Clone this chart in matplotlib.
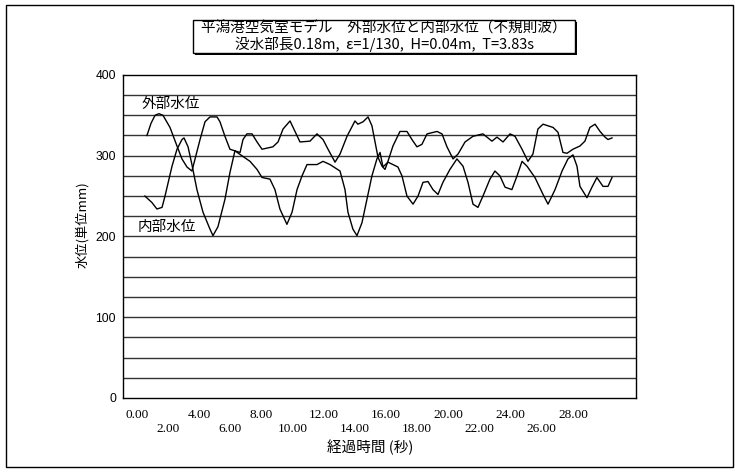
import matplotlib
matplotlib.use("Agg")
import matplotlib.pyplot as plt
from matplotlib.patches import Rectangle

# 外部水位 (outer water level)
t_outer = [0.64, 0.90, 1.16, 1.41, 1.67, 2.12, 2.57, 2.89, 3.21, 3.53, 3.73, 4.05, 4.37, 4.69,
           5.14, 5.33, 5.65, 5.97, 6.29, 6.62, 6.81, 7.06, 7.39, 7.71, 8.03, 8.73, 9.06, 9.38,
           9.83, 10.15, 10.47, 11.11, 11.56, 11.95, 12.27, 12.72, 13.04, 13.49, 14.00, 14.19,
           14.52, 14.84, 15.09, 15.29, 15.48, 15.74, 15.93, 16.12, 16.44, 16.89, 17.34, 17.66,
           17.98, 18.30, 18.63, 19.27, 19.59, 19.91, 20.30, 20.62, 21.07, 21.58, 22.22, 22.80,
           23.12, 23.51, 23.96, 24.28, 24.73, 25.11, 25.43, 25.75, 26.08, 26.72, 27.04, 27.36,
           27.62, 28.00, 28.45, 28.77, 29.09, 29.42, 29.74, 30.06, 30.25, 30.51]
v_outer = [325, 340, 350, 352, 350, 335, 312, 296, 286, 281, 296, 320, 342, 348,
           348, 342, 324, 308, 306, 304, 320, 327, 327, 317, 308, 311, 317, 333,
           343, 330, 317, 318, 327, 320, 308, 292, 302, 324, 343, 339,
           342, 348, 337, 317, 298, 287, 283, 293, 312, 330, 330, 320,
           311, 314, 327, 330, 327, 311, 296, 302, 317, 324, 327, 318,
           323, 317, 327, 324, 308, 293, 302, 333, 339, 335, 329, 304,
           303, 308, 312, 318, 335, 339, 330, 323, 320, 322]

# 内部水位 (inner water level)
t_inner = [0.51, 0.96, 1.28, 1.61, 1.80, 2.25, 2.57, 2.89, 3.02, 3.28, 3.53, 3.85, 4.24, 4.69,
           4.88, 5.20, 5.65, 5.97, 6.29, 6.81, 7.26, 7.71, 8.03, 8.54, 8.86, 9.18, 9.63, 9.96,
           10.28, 10.60, 10.92, 11.56, 11.95, 12.40, 13.04, 13.36, 13.55, 13.87, 14.13, 14.45,
           14.77, 15.09, 15.41, 15.61, 15.80, 16.12, 16.44, 16.76, 17.02, 17.34, 17.73, 18.05,
           18.37, 18.69, 19.01, 19.33, 19.65, 20.10, 20.55, 20.94, 21.26, 21.58, 21.90, 22.22,
           22.67, 22.99, 23.31, 23.64, 24.08, 24.41, 24.73, 25.05, 25.56, 26.08, 26.40, 26.85,
           27.30, 27.68, 28.00, 28.26, 28.45, 28.90, 29.22, 29.54, 29.93, 30.25, 30.51]
v_inner = [250, 242, 234, 236, 250, 287, 308, 320, 322, 311, 289, 258, 230, 209,
           201, 212, 246, 279, 306, 299, 293, 283, 273, 271, 258, 234, 215, 230,
           258, 275, 289, 289, 293, 289, 281, 258, 230, 209, 201, 217,
           246, 275, 296, 304, 286, 292, 289, 286, 275, 250, 240, 250,
           267, 268, 258, 252, 267, 283, 296, 287, 267, 240, 236, 250,
           271, 281, 275, 261, 258, 275, 293, 287, 273, 252, 240, 258,
           281, 296, 301, 287, 262, 248, 261, 273, 262, 262, 273]

x_ticks = [0, 2, 4, 6, 8, 10, 12, 14, 16, 18, 20, 22, 24, 26, 28]
y_ticks = [0, 100, 200, 300, 400]

jp = ['Noto Sans CJK JP', 'DejaVu Sans']

fig = plt.figure(figsize=(7.35, 4.73), dpi=100)
ax = fig.add_axes([0.1673, 0.1586, 0.698, 0.683])

# 横のグリッド線 (25mm毎)
for g in range(25, 400, 25):
    ax.axhline(g, color='#333333', lw=1.0, zorder=1)

ax.plot(t_outer, v_outer, color='black', lw=1.0, zorder=3)
ax.plot(t_inner, v_inner, color='black', lw=1.0, zorder=3)

ax.text(0.32, 364, '外部水位', family=jp, fontsize=10.5, ha='left', va='center')
ax.text(0.06, 212, '内部水位', family=jp, fontsize=10.5, ha='left', va='center')

ax.set_xlim(-0.9, 32.05)
ax.set_ylim(0, 400)
ax.set_yticks(y_ticks)
ax.set_yticklabels([str(v) for v in y_ticks], family='Liberation Sans', fontsize=8.7)
ax.set_xticks(x_ticks)
labels = []
for i, v in enumerate(x_ticks):
    s = '%.2f' % v
    labels.append(s if i % 2 == 0 else '\n' + s)
ax.set_xticklabels(labels, family='Liberation Serif', fontsize=9.5, linespacing=1.25)
ax.tick_params(length=0)
ax.tick_params(axis='x', pad=8)
ax.tick_params(axis='y', pad=5)
for s in ax.spines.values():
    s.set_linewidth(1.0)
    s.set_color('black')

fig.text(370 / 735, 1 - 447 / 473, '経過時間 (秒)', family=jp, fontsize=10.5, ha='center', va='center')
fig.text(82 / 735, 1 - 225 / 473, '水位(単位mm)', family=jp, fontsize=9.5, rotation=90,
         ha='center', va='center')

# タイトル枠 (影付き)
fig.patches.append(Rectangle((195 / 735, 1 - 55 / 473), 382 / 735, 33 / 473,
                             transform=fig.transFigure, facecolor='black', edgecolor='black', lw=0))
fig.patches.append(Rectangle((193 / 735, 1 - 53 / 473), 382 / 735, 33 / 473,
                             transform=fig.transFigure, facecolor='white', edgecolor='black', lw=1))
fig.text(384 / 735, 1 - 28 / 473, '平潟港空気室モデル　外部水位と内部水位（不規則波）',
         family=jp, fontsize=10.5, ha='center', va='center')
fig.text(384 / 735, 1 - 44 / 473, '没水部長0.18m,  ε=1/130,  H=0.04m,  T=3.83s',
         family=jp, fontsize=10.5, ha='center', va='center')

# 外枠
fig.patches.append(Rectangle((6 / 735, 1 - 467 / 473), 727 / 735, 462 / 473,
                             transform=fig.transFigure, fill=False, edgecolor='black', lw=1))

fig.savefig('out.png', dpi=100)
